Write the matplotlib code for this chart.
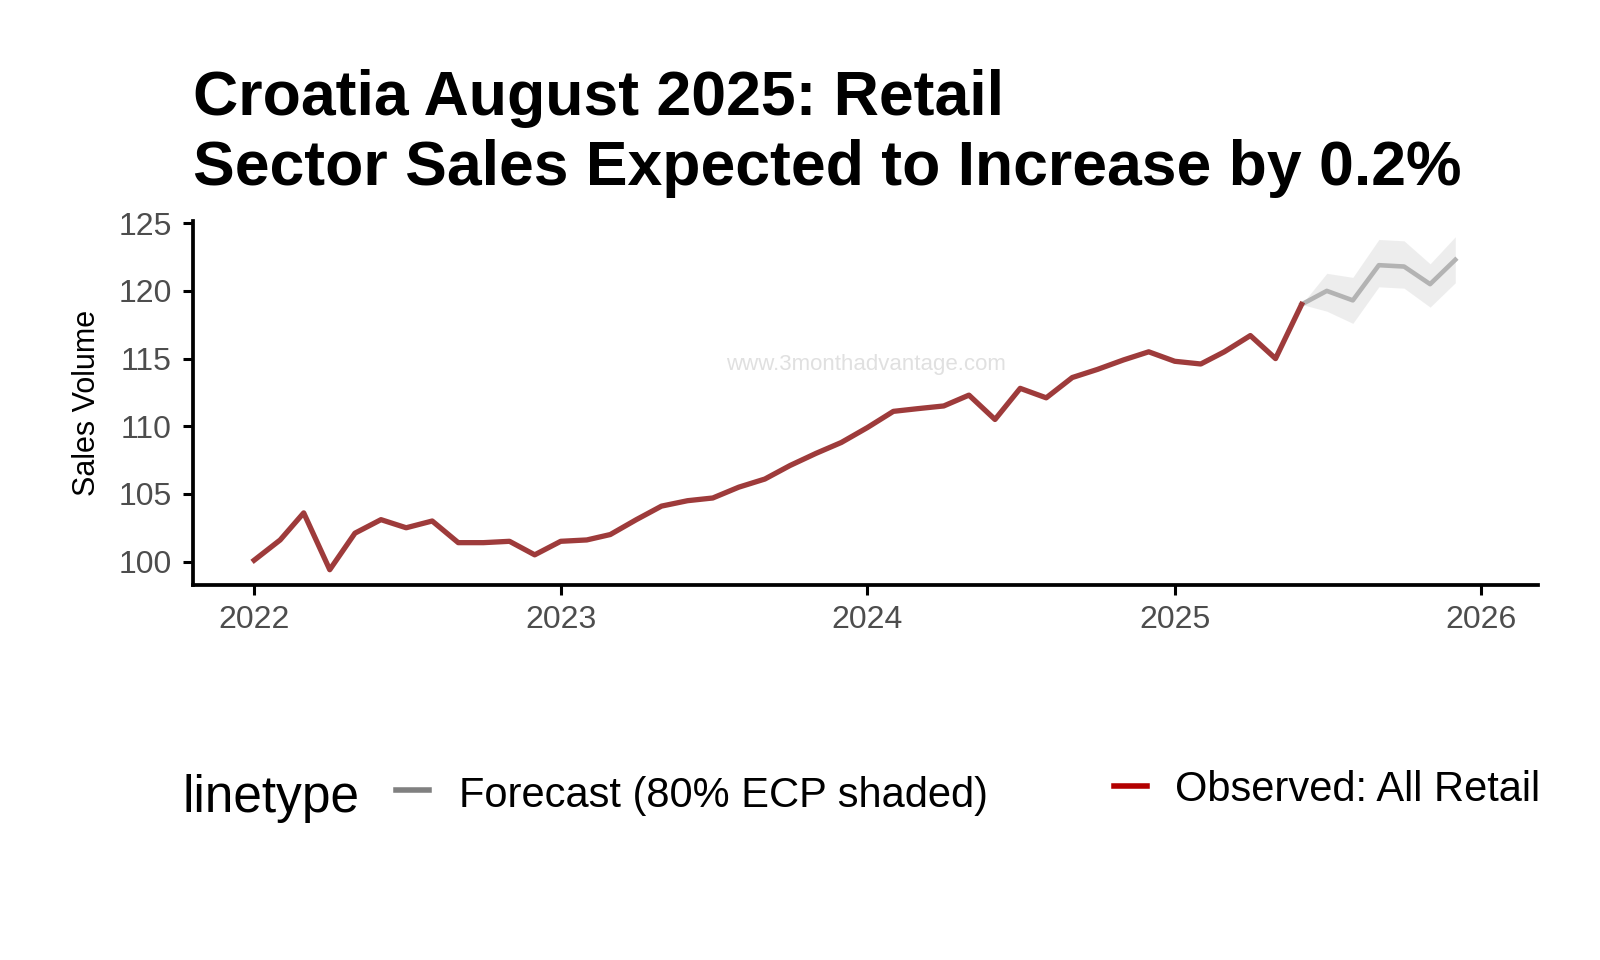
import matplotlib
matplotlib.use("Agg")
import matplotlib.pyplot as plt
import matplotlib.dates as mdates
import pandas as pd
import numpy as np
from matplotlib.lines import Line2D

obs_dates = pd.date_range("2022-01-01", "2025-06-01", freq="MS")
obs_vals = [100.1,101.6,103.6,99.4,102.1,103.1,102.5,103.0,101.4,101.4,101.5,100.5,
            101.5,101.6,102.0,103.1,104.1,104.5,104.7,105.5,106.1,107.1,108.0,108.8,
            109.9,111.1,111.3,111.5,112.3,110.5,112.8,112.1,113.6,114.2,114.9,115.5,
            114.8,114.6,115.5,116.7,115.0,119.0]
fc_dates = pd.date_range("2025-06-01", "2025-12-01", freq="MS")
fc_vals = [119.0,120.0,119.3,121.9,121.8,120.5,122.3]
fc_lo = [119.0,118.5,117.6,120.3,120.2,118.8,120.6]
fc_hi = [119.0,121.3,121.0,123.8,123.7,122.0,124.0]

W, H = 1560, 936
plt.rcParams['font.family'] = ['Liberation Sans', 'DejaVu Sans']
fig = plt.figure(figsize=(16, 9.6), dpi=100)
ax = fig.add_axes([188/W, 1-570/H, (1500-188)/W, (570-215)/H])
ax.fill_between(fc_dates, fc_lo, fc_hi, color='#d9d9d9', alpha=0.45, lw=0)
ax.plot(fc_dates, fc_vals, color='#b3b3b3', lw=3.3)
ax.plot(obs_dates, obs_vals, color='#9e3b3b', lw=3.8)
ax.set_ylim(98.3, 125.2)
ax.set_yticks([100,105,110,115,120,125])
ax.set_xlim(pd.Timestamp("2021-10-20"), pd.Timestamp("2026-03-10"))
ax.xaxis.set_major_locator(mdates.YearLocator())
ax.xaxis.set_major_formatter(mdates.DateFormatter("%Y"))
for s in ['top','right']:
    ax.spines[s].set_visible(False)
for s in ['left','bottom']:
    ax.spines[s].set_linewidth(2.7)
ax.tick_params(labelsize=23, width=2.2, length=7, pad=8, colors='black', labelcolor='#4d4d4d')
ax.set_ylabel("Sales Volume", fontsize=22, labelpad=12)
ax.text(0.5, 0.59, "www.3monthadvantage.com", transform=ax.transAxes, ha='center',
        fontsize=16, color='#e0e0e0')
fig.text(188/W, 1-112/H, "Croatia August 2025: Retail", fontsize=45, weight='bold')
fig.text(188/W, 1-180/H, "Sector Sales Expected to Increase by 0.2%", fontsize=45, weight='bold')
fig.text(178/W, 1-792/H, "linetype", fontsize=37)
fig.add_artist(Line2D([386/W, 418/W], [1-770/H]*2, color='#808080', lw=4))
fig.text(448/W, 1-787/H, "Forecast (80% ECP shaded)", fontsize=30)
fig.add_artist(Line2D([1086/W, 1118/W], [1-766/H]*2, color='#b30000', lw=4))
fig.text(1146/W, 1-781/H, "Observed: All Retail", fontsize=30)
fig.savefig("out.png", dpi=100, facecolor='white')
